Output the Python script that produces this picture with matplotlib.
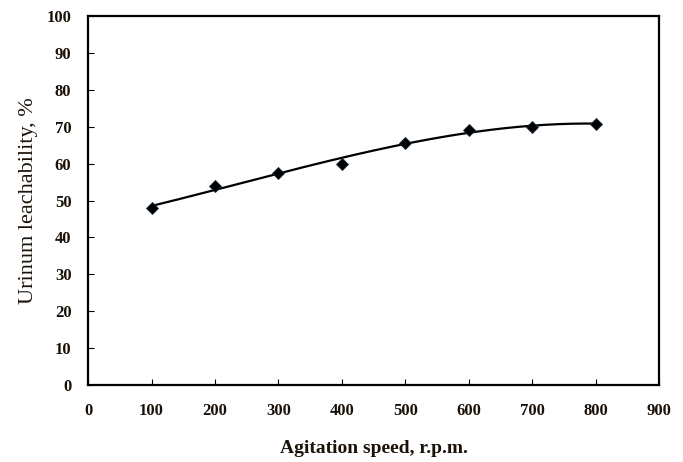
import numpy as np
import matplotlib
matplotlib.use('Agg')
import matplotlib.pyplot as plt

speed = [100, 200, 300, 400, 500, 600, 700, 800]
leach = [48.0, 54.0, 57.5, 60.0, 65.7, 69.2, 70.0, 70.8]

plt.rcParams['font.family'] = ['Liberation Serif', 'DejaVu Serif']
plt.rcParams['font.weight'] = 'bold'

fig = plt.figure(figsize=(6.83, 4.62), dpi=100)
ax = fig.add_axes([0.129, 0.167, 0.836, 0.798])

# excel-style polynomial trendline
coef = np.polyfit(speed, leach, 3)
xs = np.linspace(min(speed), max(speed), 200)
ax.plot(xs, np.polyval(coef, xs), color='black', lw=1.6)
ax.plot(speed, leach, 'D', color='black', ms=6, mec='#1a2a40', mew=0.6)

ax.set_xlim(0, 900)
ax.set_ylim(0, 100)
ax.set_xticks(range(0, 901, 100))
ax.set_yticks(range(0, 101, 10))
ax.tick_params(direction='in', length=4, width=0.8, labelsize=12,
               labelcolor='#1a1208')
ax.tick_params(axis='x', pad=13)
ax.tick_params(axis='y', pad=12)
for s in ax.spines.values():
    s.set_linewidth(1.6)

ax.set_xlabel('Agitation speed, r.p.m.', fontsize=14, fontweight='bold',
              color='#1a1208', labelpad=15)
ax.set_ylabel('Urinum leachability, %', fontsize=16, fontweight='normal',
              color='#1a1208', labelpad=6)

fig.savefig('out.png', dpi=100)
